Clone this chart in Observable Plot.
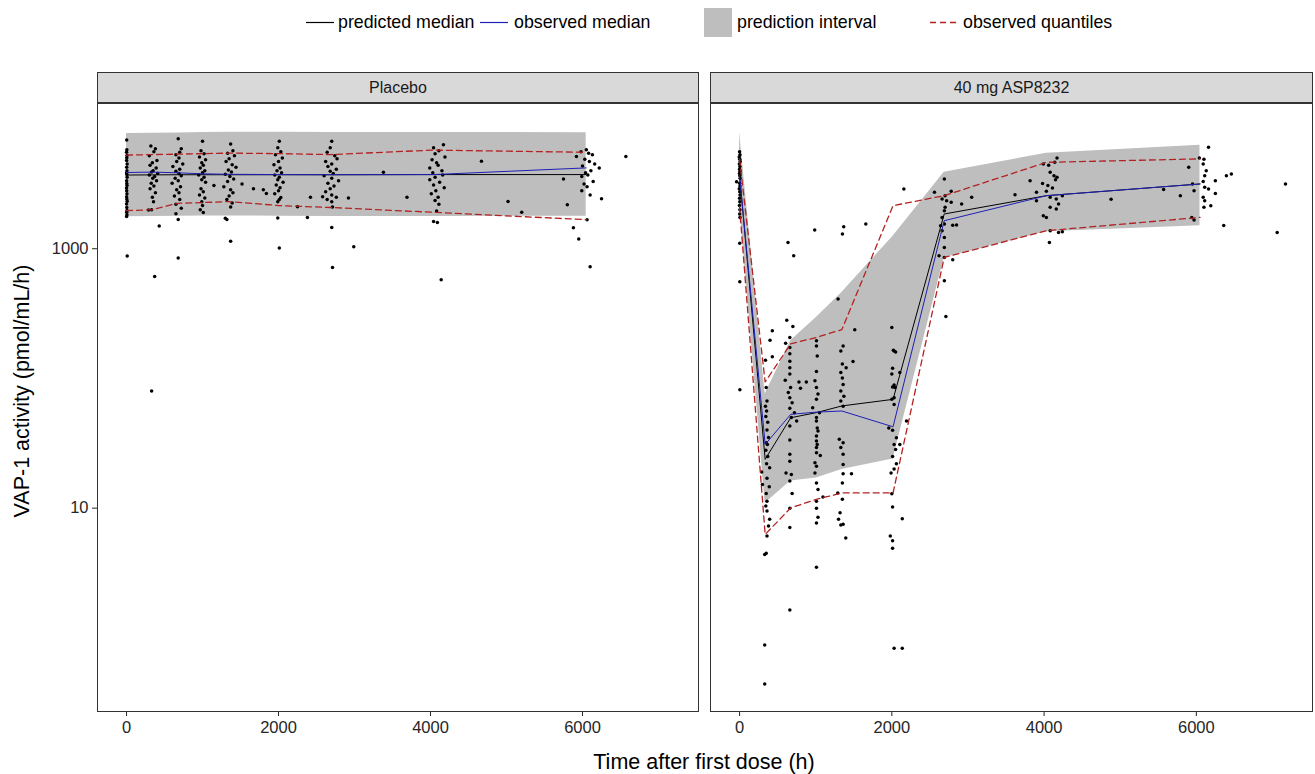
<!DOCTYPE html>
<html>
<head>
<meta charset="utf-8">
<script src="https://cdn.jsdelivr.net/npm/d3@7"></script>
<script src="https://cdn.jsdelivr.net/npm/@observablehq/plot@0.6"></script>
<style>
  body { margin: 0; background: #fff; }
  #root { position: relative; width: 1315px; height: 774px; overflow: hidden;
          font-family: "Liberation Sans", Arial, sans-serif; color: #1a1a1a; }
  .abs { position: absolute; white-space: nowrap; }
  .leg { font-size: 17.8px; line-height: 20px; top: 12px; color: #000; }
  .strip { box-sizing: border-box; height: 31px; top: 72px; background: #d9d9d9;
           border: 1px solid #333; font-size: 16px; line-height: 29px; text-align: center; }
  .panel { position: absolute; top: 101px; }
</style>
</head>
<body>
<div id="root"></div>
<script>
// Treatment groups (one panel each)
const groups = ["Placebo", "40 mg ASP8232"];

// Nominal bin times (h)
const binTimes = [0, 336, 672, 1008, 1344, 2016, 2688, 4032, 6048];

// Placebo: prediction interval, medians and observed quantiles per bin
const placeboPiLo      = [1766, 1770, 1780, 1790, 1790, 1780, 1770, 1775, 1780];
const placeboPiHi      = [7750, 7780, 7820, 7880, 7900, 7900, 7880, 7870, 7850];
const placeboPredMed   = [3700, 3710, 3720, 3720, 3720, 3720, 3720, 3730, 3730];
const placeboObsMed    = [3870, 3900, 3850, 3780, 3750, 3730, 3720, 3730, 4200];
const placeboObsLo     = [1965, 2000, 2240, 2270, 2310, 2150, 2080, 1910, 1675];
const placeboObsHi     = [5270, 5320, 5360, 5410, 5460, 5410, 5320, 5760, 5540];

// 40 mg ASP8232: same summaries per bin
const activePiLo       = [2200, 10.9, 16.2, 17.1, 19.9, 23.9, 852, 1353, 1505];
const activePiHi       = [7900, 76, 195, 295, 460, 1250, 3880, 5450, 6280];
const activePredMed    = [3700, 23.8, 49.8, 54.5, 61.4, 69, 1853, 2566, 3158];
const activeObsMed     = [3650, 31, 52.9, 55, 56.1, 42.4, 1645, 2566, 3158];
const activeObsLo      = [2100, 6.27, 10.05, 11.7, 13.1, 13.1, 857, 1377, 1745];
const activeObsHi      = [4900, 94, 185, 207, 238, 2148, 2566, 4637, 4928];

// Observed VAP-1 activity: [time after first dose (h), activity (pmol/mL/h)]
const placeboObs = [
  [2,6900],[4,5800],[0,5550],[6,5230],[3,5020],[1,4780],[8,4510],[2,4240],[5,4000],[0,3840],[4,3730],[7,3550],[1,3350],[3,3190],[6,3070],[0,2940],[2,2800],[5,2650],[1,2520],[4,2420],[8,2320],[0,2210],[3,2080],[6,1970],[2,1910],[5,1830],[1,1770],[9,880],
  [320,6200],[380,5900],[360,5600],[300,5200],[400,4800],[340,4600],[310,4400],[390,4200],[350,4000],[330,3900],[410,3800],[300,3700],[370,3600],[345,3500],[395,3350],[325,3200],[360,3050],[310,2900],[380,2700],[340,2500],[355,2300],[330,2000],[290,1990],[430,1500],[370,610],[330,80],
  [680,7040],[720,5900],[700,5540],[650,5300],[690,5000],[660,4700],[740,4500],[610,4300],[700,4100],[650,3950],[690,3800],[720,3650],[640,3500],[680,3350],[600,3200],[710,3000],[660,2850],[690,2700],[630,2550],[700,2400],[650,2200],[720,2050],[650,1860],[680,1680],[680,850],
  [1000,6750],[980,5700],[1020,5400],[960,5100],[1040,4850],[990,4600],[1010,4400],[970,4200],[1030,4000],[1000,3850],[950,3700],[1020,3550],[990,3400],[1040,3250],[1150,3070],[980,2900],[1010,2750],[960,2600],[1030,2460],[990,2300],[1000,2150],[970,2000],[1010,1900],
  [1370,6430],[1400,5700],[1330,5450],[1420,5200],[1350,4950],[1310,4700],[1390,4450],[1440,4250],[1340,4050],[1380,3900],[1300,3750],[1360,3600],[1410,3450],[1330,3300],[1520,3150],[1280,3000],[1370,2850],[1400,2700],[1350,2550],[1320,2400],[1390,2250],[1370,2100],[1300,1720],[1320,1680],[1370,1140],[1670,2900],[1800,2850],[1840,2670],
  [2010,6740],[1990,6000],[2030,5600],[1960,5300],[2050,5000],[2000,4700],[1940,4450],[2020,4200],[1980,4000],[2040,3850],[1950,3700],[2010,3550],[1990,3400],[2060,3250],[1970,3100],[2020,2950],[2000,2800],[1950,2650],[2030,2480],[2010,2400],[1990,2300],[1990,1725],[2010,1012],[2250,2110],[2420,2490],[2580,2520],[2380,1745],
  [2700,6740],[2680,6000],[2640,5550],[2740,5200],[2770,4950],[2620,4700],[2700,4500],[2650,4300],[2760,4100],[2680,3950],[2720,3800],[2600,3650],[2700,3500],[2790,3350],[2650,3200],[2730,3050],[2680,2900],[2620,2750],[2700,2600],[2760,2500],[2640,2400],[2700,2300],[2710,2100],[2700,1460],[2710,718],[2920,2460],[2990,1036],[3380,3890],[3690,2490],
  [4170,6340],[4040,6000],[4110,5700],[4060,5400],[4190,5100],[4020,4850],[4080,4600],[4100,4400],[3990,4200],[4150,4000],[4030,3850],[4160,3700],[4060,3550],[3990,3400],[4120,3250],[4040,3100],[4180,2950],[4070,2800],[4010,2650],[4100,2500],[4060,2350],[4110,2200],[4080,1950],[4040,1620],[4090,1590],[4140,576],[4670,4720],[5020,2310],[5200,1910],
  [6050,5800],[5980,5600],[6080,5450],[6130,5300],[5920,5150],[6030,4900],[6090,4700],[6160,4500],[6220,4190],[6000,4350],[6110,4000],[6040,3850],[6070,3700],[5990,3600],[5750,3450],[6140,3300],[6020,3150],[6060,3000],[5990,2800],[6100,2600],[6250,2430],[5800,2185],[6060,1675],[5880,1453],[5950,1188],[6100,726],[6570,5150]
];

const activeObs = [
  [0,5600],[5,5300],[-5,5100],[2,4900],[8,4700],[-3,4500],[4,4300],[0,4100],[6,3950],[-2,3800],[3,3650],[7,3500],[-40,3290],[1,3200],[5,3050],[-4,2900],[2,2750],[6,2600],[0,2450],[3,2300],[-2,2150],[4,2000],[1,1850],[5,1740],[2,1100],[3,556],[4,82],
  [430,233],[400,197],[430,147],[340,138],[350,85],[360,67],[340,61],[355,56],[345,51],[370,46],[360,40],[380,35],[350,32],[365,31],[345,28],[370,25],[355,22],[395,20.5],[290,19],[360,17],[300,15.2],[390,14.6],[350,13],[360,11.3],[345,10.4],[360,9.5],[395,8.2],[380,7.3],[360,6.1],[330,4.4],[350,4.5],[330,0.88],[330,0.44],
  [620,281],[700,251],[660,207],[660,173],[660,155],[660,136],[660,121],[660,108],[600,97],[670,85],[640,78],[660,71],[690,65],[660,59],[720,54.5],[680,50],[750,47],[660,43],[660,33.5],[660,26],[660,23],[610,18.7],[680,18.2],[660,16.2],[690,13],[660,10],[660,7.1],[660,1.64],[780,94],[877,94],[800,84],[605,187],[636,1118],[711,883],
  [1010,195],[1010,178],[1020,149],[1010,113],[990,96],[1010,85],[1030,76],[1010,69],[960,59.5],[1050,54.5],[1010,50],[1010,47],[1020,41.5],[1030,39.3],[1010,36],[1010,33],[1020,31],[1010,29.3],[1010,26.8],[1060,25.5],[990,22.4],[1010,21],[990,18.7],[1010,15.6],[1030,13.9],[1095,12.2],[1010,11.3],[1010,10],[1030,8.5],[1010,7.7],[1010,3.5],[987,1394],
  [1360,178],[1330,163],[1350,129],[1330,111],[1350,101],[1360,90],[1330,80],[1370,73],[1330,67],[1360,61],[1400,121],[1490,135],[1310,34],[1360,32],[1330,29.3],[1360,26],[1360,21.7],[1470,18.4],[1360,18.4],[1350,15.6],[1290,13.1],[1350,11.7],[1320,9.2],[1300,8.2],[1360,7.5],[1330,7.4],[1395,5.9],[1294,409],[1513,237],[1351,1300],[1368,1478],[1658,1550],
  [2000,247],[2030,163],[2050,160],[2010,120],[2000,108],[2030,89],[2010,86],[2105,111],[2000,69],[2030,63],[1960,41.5],[2010,39.8],[2060,34.9],[2030,31],[2050,28.3],[2010,25],[2060,22],[2030,20],[1990,18.7],[2105,31],[2193,47],[2000,12.9],[2010,10.2],[2137,8.3],[1980,6.1],[2010,5.6],[2010,4.9],[2030,0.83],[2137,0.83],[2158,2890],[2020,165],[2040,85],[2030,71],
  [2690,3450],[2560,2720],[2700,2566],[2660,2420],[2720,2348],[2780,2280],[2690,1965],[2700,2085],[2660,1745],[2690,1550],[2850,1524],[2800,1520],[2640,1505],[2660,1377],[2690,1222],[2690,1023],[2620,883],[2690,857],[2800,822],[2690,566],[2710,300],[3049,2490],[2917,2210],[2780,2770],
  [4170,5000],[4140,4640],[3990,4510],[4060,4400],[4080,3880],[4130,3660],[4170,3550],[4150,3410],[3980,3190],[4050,3070],[4110,2945],[4030,2770],[3900,2720],[4080,2490],[4160,2420],[4190,2210],[4080,2085],[4160,2025],[3990,1800],[4030,1745],[4190,1337],[4240,1350],[4080,1377],[4070,1118],[3816,3350],[3618,2610],[3900,2348],[4240,2566],
  [6160,6060],[6040,5000],[6100,4900],[6090,4510],[5900,4245],[6130,4000],[6110,3660],[6250,3350],[6090,3300],[5950,3160],[6110,2975],[6160,2890],[5790,2566],[5970,2800],[6250,2670],[6090,2500],[6110,2348],[6190,2148],[6100,2085],[5940,1745],[5970,1665],[5570,2860],[4880,2405],[6360,1510],[6395,3660],[6460,3770],[7171,3160],[7062,1337]
];

// Axis ticks and scale extents shared by both panels
const xTicks = [0, 2000, 4000, 6000];
const yTicks = [10, 1000];
const xDomain = [-382, 7526];
const yDomain = [0.2706, 13175];

const legendLabels = ["predicted median", "observed median", "prediction interval", "observed quantiles"];
const xLabel = "Time after first dose (h)";
const yLabel = "VAP-1 activity (pmol/mL/h)";

const bandFill = "#bebebe";
const predColor = "#000000";
const obsColor = "#1f1fb4";
const quantColor = "#b22222";

function summaryRows(lo, hi, pred, med, qlo, qhi) {
  return binTimes.map((t, i) => ({
    t, piLo: lo[i], piHi: hi[i], pred: pred[i], med: med[i], qlo: qlo[i], qhi: qhi[i]
  }));
}

function panel({ obs, rows, width, marginLeft, marginRight, showY }) {
  const points = obs.map(([t, v]) => ({ t, v }));
  return Plot.plot({
    width, height: 649,
    marginTop: 2, marginBottom: 39, marginLeft, marginRight,
    style: { fontFamily: "'Liberation Sans', Arial, sans-serif", fontSize: "16.5px",
             color: "#262626", background: "transparent", overflow: "visible" },
    x: { domain: xDomain, ticks: xTicks, tickFormat: d3.format("d"),
         tickSize: 5, tickPadding: 5, label: null },
    y: { type: "log", domain: yDomain, ticks: yTicks, tickFormat: d3.format("d"),
         tickSize: 5, tickPadding: 4, label: null, axis: showY ? "left" : null },
    marks: [
      Plot.areaY(rows, { x: "t", y1: "piLo", y2: "piHi", fill: bandFill }),
      Plot.dot(points, { x: "t", y: "v", r: 1.75, fill: "#000", stroke: null }),
      Plot.line(rows, { x: "t", y: "qlo", stroke: quantColor, strokeWidth: 1.3, strokeDasharray: "6,4" }),
      Plot.line(rows, { x: "t", y: "qhi", stroke: quantColor, strokeWidth: 1.3, strokeDasharray: "6,4" }),
      Plot.line(rows, { x: "t", y: "pred", stroke: predColor, strokeWidth: 1 }),
      Plot.line(rows, { x: "t", y: "med", stroke: obsColor, strokeWidth: 1 }),
      Plot.frame({ stroke: "#333", strokeWidth: 1 })
    ]
  });
}

const root = document.getElementById("root");

function addDiv(cls, text, css) {
  const d = document.createElement("div");
  d.className = cls;
  d.textContent = text;
  Object.assign(d.style, css);
  root.appendChild(d);
  return d;
}

function addKey(svgInner, left, top, w, h) {
  const d = document.createElement("div");
  d.className = "abs";
  Object.assign(d.style, { left: left + "px", top: top + "px", width: w + "px", height: h + "px" });
  d.innerHTML = `<svg width="${w}" height="${h}">${svgInner}</svg>`;
  root.appendChild(d);
}

// Legend
addKey(`<line x1="0" x2="28" y1="6.5" y2="6.5" stroke="${predColor}" stroke-width="1.2"/>`, 306, 15, 28, 13);
addDiv("abs leg", legendLabels[0], { left: "338px" });
addKey(`<line x1="0" x2="28" y1="6.5" y2="6.5" stroke="${obsColor}" stroke-width="1.2"/>`, 480, 15, 28, 13);
addDiv("abs leg", legendLabels[1], { left: "514px" });
addKey(`<rect x="0" y="0" width="28" height="29" fill="${bandFill}"/>`, 704, 8, 28, 29);
addDiv("abs leg", legendLabels[2], { left: "737px" });
addKey(`<line x1="0" x2="28" y1="6.5" y2="6.5" stroke="${quantColor}" stroke-width="1.3" stroke-dasharray="6,4"/>`, 930, 15, 28, 13);
addDiv("abs leg", legendLabels[3], { left: "963px" });

// Facet strips
addDiv("abs strip", groups[0], { left: "97px", width: "602px" });
addDiv("abs strip", groups[1], { left: "710px", width: "603px" });

// Panels
const left = panel({
  obs: placeboObs,
  rows: summaryRows(placeboPiLo, placeboPiHi, placeboPredMed, placeboObsMed, placeboObsLo, placeboObsHi),
  width: 700, marginLeft: 97, marginRight: 2, showY: true
});
left.classList.add("panel");
left.style.left = "0px";
root.appendChild(left);

const right = panel({
  obs: activeObs,
  rows: summaryRows(activePiLo, activePiHi, activePredMed, activeObsMed, activeObsLo, activeObsHi),
  width: 606, marginLeft: 2, marginRight: 2, showY: false
});
right.classList.add("panel");
right.style.left = "708px";
root.appendChild(right);

// Axis titles
addDiv("abs", xLabel, { left: "704px", top: "750px", fontSize: "21.5px", lineHeight: "24px",
                        transform: "translateX(-50%)", color: "#000" });
addDiv("abs", yLabel, { left: "22px", top: "391px", fontSize: "21.5px", lineHeight: "24px",
                        transform: "translate(-50%, -50%) rotate(-90deg)", color: "#000" });
</script>
</body>
</html>
